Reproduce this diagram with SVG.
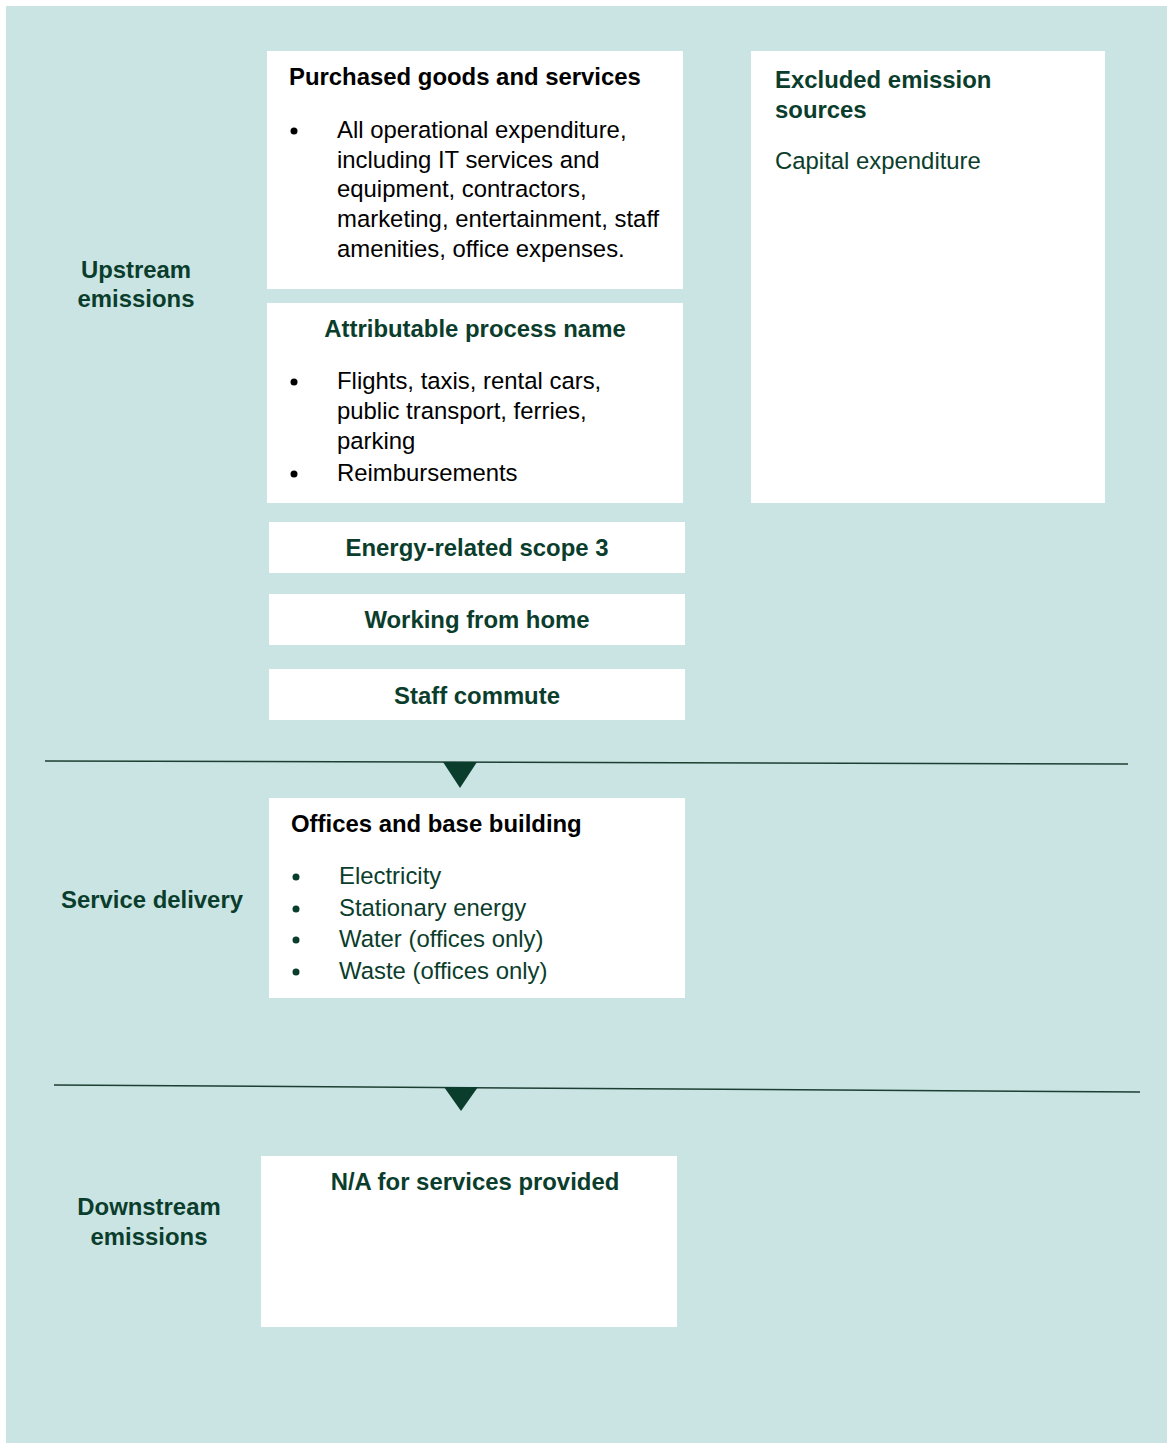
<svg xmlns="http://www.w3.org/2000/svg" width="1167" height="1443" viewBox="0 0 1167 1443">
<style>
text{font-family:"Liberation Sans",Arial,sans-serif;font-size:23.9px}
.b{font-weight:bold}
.g{fill:#0b3d2c}
.k{fill:#000}
.box{fill:#fff}
.c{text-anchor:middle}
.ln{stroke:#1d3f33;stroke-width:1.5;fill:none}
.tri{fill:#0b3d2c}
</style>
<rect x="6" y="6" width="1161" height="1437" fill="#cae4e4"/>
<g id="labels">
<text class="b g c" x="136" y="278">Upstream</text>
<text class="b g c" x="136" y="307">emissions</text>
<text class="b g c" x="152" y="908">Service delivery</text>
<text class="b g c" x="149" y="1215">Downstream</text>
<text class="b g c" x="149" y="1245">emissions</text>
</g>
<g id="purchased">
<rect class="box" x="267" y="51" width="416" height="238"/>
<text class="b k" x="289" y="85">Purchased goods and services</text>
<circle cx="294" cy="131" r="3.5" fill="#000"/>
<text class="k" x="337" y="138">All operational expenditure,</text>
<text class="k" x="337" y="168">including IT services and</text>
<text class="k" x="337" y="197">equipment, contractors,</text>
<text class="k" x="337" y="227">marketing, entertainment, staff</text>
<text class="k" x="337" y="257">amenities, office expenses.</text>
</g>
<g id="attributable">
<rect class="box" x="267" y="303" width="416" height="200"/>
<text class="b g c" x="475" y="337">Attributable process name</text>
<circle cx="294" cy="382" r="3.5" fill="#000"/>
<text class="k" x="337" y="389">Flights, taxis, rental cars,</text>
<text class="k" x="337" y="419">public transport, ferries,</text>
<text class="k" x="337" y="449">parking</text>
<circle cx="294" cy="474" r="3.5" fill="#000"/>
<text class="k" x="337" y="481">Reimbursements</text>
</g>
<g id="excluded">
<rect class="box" x="751" y="51" width="354" height="452"/>
<text class="b g" x="775" y="88">Excluded emission</text>
<text class="b g" x="775" y="118">sources</text>
<text class="g" x="775" y="169">Capital expenditure</text>
</g>
<g id="energy">
<rect class="box" x="269" y="522" width="416" height="51"/>
<text class="b g c" x="477" y="556">Energy-related scope 3</text>
</g>
<g id="wfh">
<rect class="box" x="269" y="594" width="416" height="51"/>
<text class="b g c" x="477" y="628">Working from home</text>
</g>
<g id="commute">
<rect class="box" x="269" y="669" width="416" height="51"/>
<text class="b g c" x="477" y="704">Staff commute</text>
</g>
<g id="offices">
<rect class="box" x="269" y="798" width="416" height="200"/>
<text class="b k" x="291" y="832">Offices and base building</text>
<circle cx="296" cy="877" r="3.5" class="g"/>
<text class="g" x="339" y="884">Electricity</text>
<circle cx="296" cy="909" r="3.5" class="g"/>
<text class="g" x="339" y="916">Stationary energy</text>
<circle cx="296" cy="940" r="3.5" class="g"/>
<text class="g" x="339" y="947">Water (offices only)</text>
<circle cx="296" cy="972" r="3.5" class="g"/>
<text class="g" x="339" y="979">Waste (offices only)</text>
</g>
<g id="na">
<rect class="box" x="261" y="1156" width="416" height="171"/>
<text class="b g c" x="475" y="1190">N/A for services provided</text>
</g>
<g id="connectors">
<line class="ln" x1="45" y1="761" x2="1128" y2="764"/>
<polygon class="tri" points="443,762 477,762 460,788"/>
<line class="ln" x1="54" y1="1085" x2="1140" y2="1092"/>
<polygon class="tri" points="444,1087 478,1087 461,1111"/>
</g>
</svg>
